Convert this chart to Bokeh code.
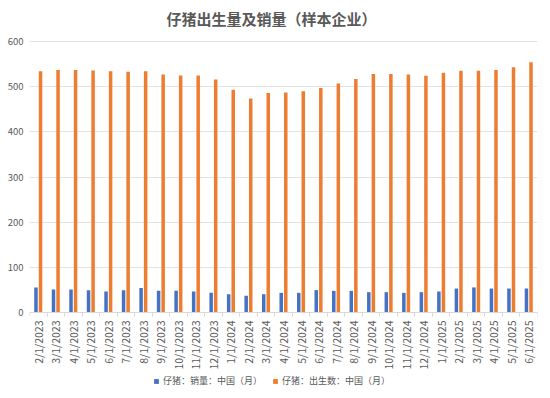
from math import pi
from bokeh.plotting import figure
from bokeh.models import Range1d, FixedTicker, Legend, LegendItem, Label, ColumnDataSource
from bokeh.transform import dodge
from bokeh.embed import file_html
from bokeh.resources import INLINE

months = ["2/1/2023", "3/1/2023", "4/1/2023", "5/1/2023", "6/1/2023", "7/1/2023",
          "8/1/2023", "9/1/2023", "10/1/2023", "11/1/2023", "12/1/2023", "1/1/2024",
          "2/1/2024", "3/1/2024", "4/1/2024", "5/1/2024", "6/1/2024", "7/1/2024",
          "8/1/2024", "9/1/2024", "10/1/2024", "11/1/2024", "12/1/2024", "1/1/2025",
          "2/1/2025", "3/1/2025", "4/1/2025", "5/1/2025", "6/1/2025"]
sales = [55.5, 51, 51, 49.5, 46.5, 49.5, 54, 48, 48, 46.5, 43.5, 40.5, 37, 40.5, 43.5,
         43.5, 49.5, 48, 48, 45, 45, 43.5, 45, 46.5, 53, 55.5, 53, 53, 53]
births = [534, 537, 537, 536, 534, 533, 534, 527, 525, 525, 516, 493, 474, 486, 487,
          490, 497, 507, 517, 528, 528, 527, 524, 531, 535, 535, 537, 543, 554]
yticks = [0, 100, 200, 300, 400, 500, 600]
series_names = ["仔猪：销量：中国（月）", "仔猪：出生数：中国（月）"]
title_text = "仔猪出生量及销量（样本企业）"

idx = list(range(len(months)))
src = ColumnDataSource(dict(x=idx, sales=sales, births=births))

FONT = "Noto Sans CJK SC"
GRAY = "#595959"

# frame covers the full height; the value axis occupies pixels 41..312 from the top
FRAME_W, FRAME_H, TOP_PX, ZERO_PX = 508, 398, 41, 312
ymax_tick = yticks[-1]
upp = ymax_tick / (ZERO_PX - TOP_PX)              # data units per pixel
y_hi = ymax_tick + TOP_PX * upp
y_lo = -(FRAME_H - ZERO_PX) * upp

p = figure(frame_width=FRAME_W, frame_height=FRAME_H, output_backend="svg", toolbar_location=None,
           x_range=Range1d(-0.5, len(months) - 0.5), y_range=Range1d(y_lo, y_hi),
           min_border_left=29, min_border_right=13, min_border_top=0, min_border_bottom=0)
p.outline_line_color = None
p.background_fill_color = "white"
p.border_fill_color = "white"

r1 = p.vbar(x=dodge("x", -0.13), top="sales", bottom=0, width=0.2, source=src,
            fill_color="#4472C4", line_color=None)
r2 = p.vbar(x=dodge("x", 0.13), top="births", bottom=0, width=0.2, source=src,
            fill_color="#ED7D31", line_color=None)

xa = p.xaxis[0]
xa.fixed_location = 0
xa.axis_label = None
xa.ticker = FixedTicker(ticks=idx, minor_ticks=[i - 0.5 for i in range(len(months) + 1)])
xa.major_label_overrides = {i: m for i, m in enumerate(months)}
xa.major_label_orientation = pi / 2
xa.major_tick_out = 0
xa.major_tick_in = 0
xa.minor_tick_out = 4
xa.minor_tick_in = 0
xa.minor_tick_line_color = "#d9d9d9"
xa.axis_line_color = "#d9d9d9"
xa.major_label_standoff = 4
xa.major_label_text_font_size = "10.5px"
xa.major_label_text_color = GRAY
xa.major_label_text_font = FONT
p.xgrid.visible = False

ya = p.yaxis[0]
ya.axis_label = None
ya.ticker = FixedTicker(ticks=yticks)
ya.axis_line_color = None
ya.major_tick_line_color = None
ya.minor_tick_line_color = None
ya.major_tick_out = 0
ya.minor_tick_out = 0
ya.major_label_standoff = 6
ya.major_label_text_font_size = "9.5px"
ya.major_label_text_color = GRAY
ya.major_label_text_font = FONT
p.ygrid.grid_line_color = "#e3e3e3"
p.ygrid.ticker = FixedTicker(ticks=yticks[1:])

legend = Legend(items=[LegendItem(label=series_names[0], renderers=[r1]),
                       LegendItem(label=series_names[1], renderers=[r2])],
                orientation="horizontal", location=(124, 11))
legend.border_line_color = None
legend.background_fill_alpha = 0
legend.padding = 0
legend.margin = 0
legend.spacing = 10
legend.glyph_width = 6
legend.glyph_height = 6
legend.label_standoff = 4
legend.label_height = 12
legend.label_text_font_size = "9px"
legend.label_text_color = GRAY
legend.label_text_font = FONT
p.add_layout(legend)

title = Label(x=242, y=FRAME_H - 18, x_units="screen", y_units="screen", text=title_text,
              text_align="center", text_baseline="middle", text_font_size="15px",
              text_font_style="bold", text_color=GRAY, text_font=FONT)
p.add_layout(title)

open("out.html", "w").write(file_html(p, INLINE))
